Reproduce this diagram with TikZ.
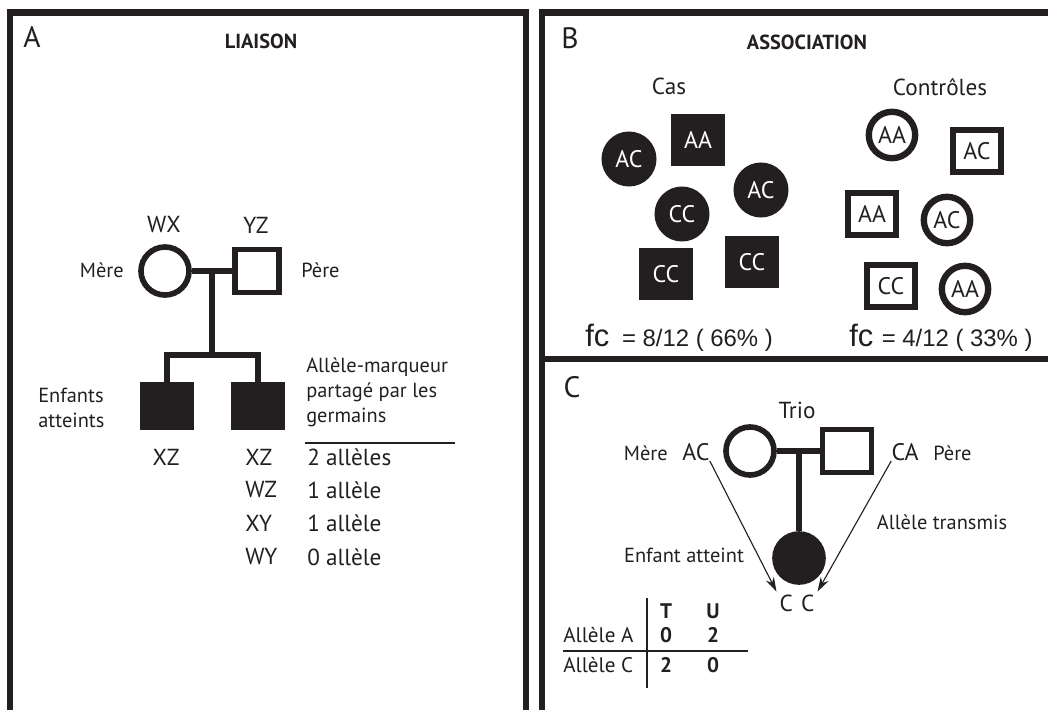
\documentclass[tikz,border=0pt]{standalone}
\usepackage{fontspec}
\setmainfont{PT Sans}
\newfontfamily\arialfont{Liberation Sans}
\usetikzlibrary{arrows.meta,positioning}
\definecolor{ink}{HTML}{231F20}

\tikzset{
  frame/.style={draw=ink,line width=4.3pt,line join=miter},
  ped/.style={draw=ink,line width=4pt},
  rule/.style={draw=ink,line width=1pt},
  arr/.style={-{Stealth[length=3.6mm,width=2.2mm]},draw=ink,line width=0.8pt},
  fem/.style={circle,ped,minimum size=1.2cm,inner sep=0pt},
  mal/.style={rectangle,ped,minimum width=1.22cm,minimum height=1.08cm,inner sep=0pt},
  aff/.style={fill=ink},
  casc/.style={circle,fill=ink,text=white,minimum size=1.375cm,inner sep=0pt,font=\fontsize{17}{20}\selectfont},
  cass/.style={rectangle,fill=ink,text=white,minimum width=1.35cm,minimum height=1.275cm,inner sep=0pt,font=\fontsize{17}{20}\selectfont},
  ctlc/.style={circle,draw=ink,line width=4.5pt,text=ink,minimum size=1.16cm,inner sep=0pt,font=\fontsize{17}{20}\selectfont},
  ctls/.style={rectangle,draw=ink,line width=4.5pt,text=ink,minimum width=1.21cm,minimum height=1.06cm,inner sep=0pt,font=\fontsize{17}{20}\selectfont},
  pnl/.style={inner sep=0pt,text=ink,font=\fontsize{21}{25}\selectfont},
  ttl/.style={inner sep=0pt,text=ink,font=\fontsize{14.5}{17}\selectfont\bfseries},
  geno/.style={inner sep=0pt,text=ink,font=\fontsize{16.5}{20}\selectfont},
  big/.style={inner sep=0pt,text=ink,font=\fontsize{16.5}{20}\selectfont},
  inl/.style={inner sep=0pt,text=ink,font=\fontsize{17}{20}\selectfont},
  txt/.style={inner sep=0pt,text=ink,font=\fontsize{14.5}{17.7}\selectfont},
  tab/.style={inner sep=0pt,text=ink,font=\fontsize{15}{18}\selectfont},
  tabb/.style={tab,font=\fontsize{15}{18}\selectfont\bfseries},
  fcf/.style={inner sep=0pt,text=ink,font=\arialfont\fontsize{17}{20}\selectfont}
}

\begin{document}
\begin{tikzpicture}[x=0.025cm,y=-0.025cm]
\useasboundingbox (0,0) rectangle (1048,710);

% A : liaison
\draw[frame] (10,710) -- (10,12.5) -- (526,12.5) -- (526,710);
\node[pnl] (lblA) at (32,37) {A};
\node[ttl] (ttlA) at (261,41) {LIAISON};
\node[fem] (momA) at (165,271) {};
\node[mal,minimum width=1.1cm] (dadA) at (257,271) {};
\node[mal,aff] (kid1A) at (167,406) {};
\node[mal,aff] (kid2A) at (258,406) {};
\coordinate (jA) at (212,271);
\coordinate (sA) at (212,355);
\draw[ped] (momA) -- (dadA);
\draw[ped] (jA) -- (sA);
\draw[ped] (kid1A.north) |- (sA) -| (kid2A.north);
\node[geno] (gmA) at (164,225) {WX};
\node[geno] (gdA) at (256,225) {YZ};
\node[txt,anchor=east] (tmA) at (124,270) {Mère};
\node[txt,anchor=west] (tdA) at (301,270) {Père};
\node[txt,align=left,anchor=north west] (kidsA) at (38,388) {Enfants\\atteints};
\node[geno] (gk1A) at (166,457) {XZ};
\node[txt,align=left,anchor=north west] (shareA) at (306,358) {Allèle-marqueur\\partagé par les\\germains};
\draw[rule] (305,443) -- (455,443);
\node[geno,anchor=west] (g1A) at (245,457) {XZ};
\node[geno,anchor=west] (n1A) at (307,457) {2 allèles};
\node[geno,anchor=west] (g2A) at (245,490) {WZ};
\node[geno,anchor=west] (n2A) at (307,490) {1 allèle};
\node[geno,anchor=west] (g3A) at (245,523) {XY};
\node[geno,anchor=west] (n3A) at (307,523) {1 allèle};
\node[geno,anchor=west] (g4A) at (245,557) {WY};
\node[geno,anchor=west] (n4A) at (307,557) {0 allèle};

% B : association
\draw[frame] (542,710) -- (542,12.5) -- (1048,12.5);
\draw[frame] (542,359) -- (1048,359);
\node[pnl] (lblB) at (570,38) {B};
\node[ttl] (ttlB) at (807,42) {ASSOCIATION};
\node[big] (casB) at (669,86) {Cas};
\node[big] (ctlB) at (940,87) {Contrôles};
\node[casc] (k1B) at (629,159) {AC};
\node[cass] (k2B) at (698,140) {AA};
\node[casc] (k3B) at (761,190) {AC};
\node[casc] (k4B) at (682,214) {CC};
\node[cass] (k5B) at (666,274) {CC};
\node[cass] (k6B) at (752,262) {CC};
\node[ctlc] (c1B) at (892,135) {AA};
\node[ctls] (c2B) at (977,151) {AC};
\node[ctls] (c3B) at (872,214) {AA};
\node[ctlc] (c4B) at (947,220) {AC};
\node[ctls] (c5B) at (891,286) {CC};
\node[ctlc] (c6B) at (965,289) {AA};
\node[fcf,anchor=base west] (fcL) at (585,346) {{\fontsize{22}{24}\selectfont fc}\hspace{9pt}= 8/12 ( 66\% )};
\node[fcf,anchor=base west] (fcR) at (849,346) {{\fontsize{22}{24}\selectfont fc}\hspace{6pt}= 4/12 ( 33\% )};

% C : trio
\node[pnl] (lblC) at (572,387) {C};
\node[big] (trioC) at (797,410) {Trio};
\node[fem] (momC) at (750,451) {};
\node[mal] (dadC) at (847,451) {};
\node[fem,aff] (kidC) at (799,558) {};
\coordinate (jC) at (799,451);
\draw[ped] (momC) -- (dadC);
\draw[ped] (jC) -- (kidC);
\node[txt,anchor=east] (tmC) at (668,453) {Mère};
\node[inl] (acC) at (696,452) {AC};
\node[inl] (caC) at (905,452) {CA};
\node[txt,anchor=west] (tdC) at (933,453) {Père};
\node[txt] (trC) at (942,522) {Allèle transmis};
\node[txt] (eaC) at (684,555) {Enfant atteint};
\node[geno,inner sep=2pt] (ccC) at (797,603) {C\hspace{6pt}C};
\draw[arr] (acC.south east) -- (ccC.north west);
\draw[arr] (caC.south west) -- (ccC.north east);
\node[tabb] (tT) at (666,611) {T};
\node[tabb] (tU) at (713,611) {U};
\node[tab,anchor=west] (rA) at (563,635) {Allèle A};
\node[tab,anchor=west] (rC) at (563,665) {Allèle C};
\node[tabb] (vA1) at (666,635) {0};
\node[tabb] (vA2) at (713,635) {2};
\node[tabb] (vC1) at (666,665) {2};
\node[tabb] (vC2) at (713,665) {0};
\draw[rule] (647,598) -- (647,688);
\draw[rule] (563,651) -- (748,651);
\end{tikzpicture}
\end{document}
